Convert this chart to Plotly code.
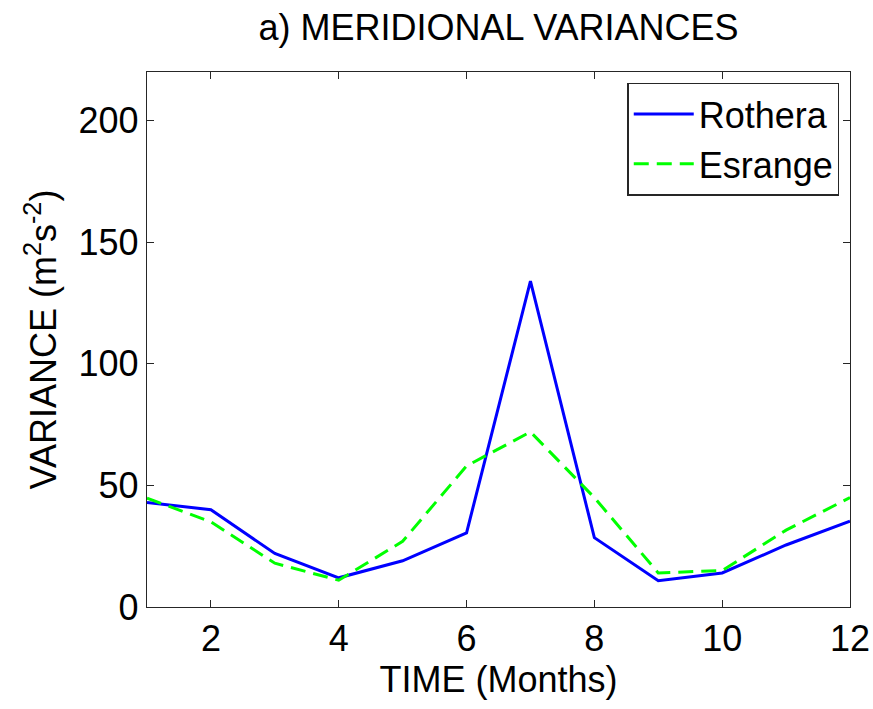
import plotly.graph_objects as go

months = [1, 2, 3, 4, 5, 6, 7, 8, 9, 10, 11, 12]
rothera = [43, 40, 22, 12, 19, 30.5, 134, 28.5, 10.8, 14, 25.5, 35.3]
esrange = [44.8, 35, 18, 11, 27, 58, 72, 45, 14, 15, 31.6, 45]
x_ticks = [2, 4, 6, 8, 10, 12]
y_ticks = [0, 50, 100, 150, 200]

FONT = "Liberation Sans, Arial, sans-serif"
FS = 36

fig = go.Figure()
fig.add_trace(go.Scatter(x=months, y=rothera, mode="lines", name="Rothera",
                         line=dict(color="#0000ff", width=3)))
fig.add_trace(go.Scatter(x=months, y=esrange, mode="lines", name="Esrange",
                         line=dict(color="#00ff00", width=3, dash="15px,8px")))

axis_common = dict(showgrid=False, zeroline=False, showline=True, linecolor="#262626",
                   linewidth=1.3, mirror="ticks", ticks="inside", ticklen=7,
                   tickcolor="#262626", tickwidth=1.3, automargin=False,
                   tickfont=dict(family=FONT, size=FS, color="black"))

fig.update_layout(
    width=873, height=709,
    margin=dict(l=147, r=23, t=72, b=102),
    paper_bgcolor="white", plot_bgcolor="white",
    title=dict(text="a) MERIDIONAL VARIANCES", x=0.571, xanchor="center",
               y=0.962, yanchor="middle",
               font=dict(family=FONT, size=FS, color="black")),
    xaxis=dict(range=[1, 12], tickvals=x_ticks,
               title=dict(text="TIME (Months)", standoff=2,
                          font=dict(family=FONT, size=FS, color="black")),
               **axis_common),
    yaxis=dict(range=[0, 220], tickvals=y_ticks,
               title=dict(text="VARIANCE (m<sup>2</sup>s<sup>-2</sup>)", standoff=10,
                          font=dict(family=FONT, size=FS, color="black")),
               **axis_common),
    legend=dict(x=0.985, y=0.98, xanchor="right", yanchor="top",
                bgcolor="white", bordercolor="#262626", borderwidth=1.3,
                font=dict(family=FONT, size=FS, color="black"),
                itemwidth=60, tracegroupgap=0),
    showlegend=True,
)

fig.write_html("out.html")
